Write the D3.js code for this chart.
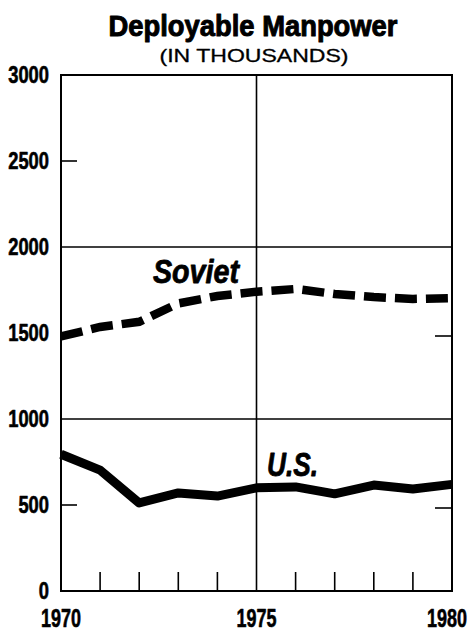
<!DOCTYPE html>
<html>
<head>
<meta charset="utf-8">
<script src="https://cdn.jsdelivr.net/npm/d3@7"></script>
<style>
  body { margin: 0; background: #fff; }
  svg text { fill: #000; font-family: 'Liberation Sans', Arial, sans-serif; }
</style>
</head>
<body>
<div id="chart"></div>
<script>
const years = [1970, 1971, 1972, 1973, 1974, 1975, 1976, 1977, 1978, 1979, 1980];
const soviet = [1480, 1535, 1565, 1672, 1715, 1740, 1756, 1727, 1709, 1698, 1703];
const us = [795, 703, 512, 570, 552, 600, 605, 565, 616, 593, 620];
const yTickLabels = [0, 500, 1000, 1500, 2000, 2500, 3000];
const yearLabels = [1970, 1975, 1980];
const gridValues = [1000, 2000];

const W = 472, H = 636;

const svg = d3.select("#chart").append("svg")
  .attr("width", W).attr("height", H);

const x = d3.scaleLinear().domain([1970, 1980]).range([61, 452]);
const y = d3.scaleLinear().domain([0, 3000]).range([591, 75]);

// the original type is a heavy condensed grotesque; squeeze Liberation Sans to fit
function squeeze(sel, len) {
  sel.attr("textLength", len).attr("lengthAdjust", "spacingAndGlyphs");
}
function heavy(sel, w) {
  sel.attr("stroke", "#000").attr("stroke-width", w).attr("stroke-linejoin", "round");
}

// title
svg.append("text")
  .attr("x", 253).attr("y", 36)
  .attr("text-anchor", "middle")
  .style("font-weight", "bold")
  .style("font-size", "30px")
  .text("Deployable Manpower")
  .call(squeeze, 289)
  .call(heavy, 1);

svg.append("text")
  .attr("x", 254).attr("y", 62)
  .attr("text-anchor", "middle")
  .style("font-size", "18px")
  .text("(IN THOUSANDS)")
  .call(squeeze, 189)
  .call(heavy, 0.3);

// frame and grid
const frame = svg.append("g").attr("stroke", "#000").attr("fill", "none");
frame.append("rect")
  .attr("x", x(1970)).attr("y", y(3000))
  .attr("width", x(1980) - x(1970)).attr("height", y(0) - y(3000))
  .attr("stroke-width", 2);

frame.selectAll(".grid")
  .data(gridValues)
  .join("line")
  .attr("x1", x(1970)).attr("x2", x(1980))
  .attr("y1", d => y(d)).attr("y2", d => y(d))
  .attr("stroke-width", 1.6);

frame.append("line")
  .attr("x1", x(1975)).attr("x2", x(1975))
  .attr("y1", y(3000)).attr("y2", y(0))
  .attr("stroke-width", 1.6);

// small inner ticks on the left and right for the half-thousands
frame.selectAll(".ltick")
  .data([500, 1500, 2500])
  .join("line")
  .attr("x1", x(1970)).attr("x2", x(1970) + 16)
  .attr("y1", d => y(d)).attr("y2", d => y(d))
  .attr("stroke-width", 1.6);

frame.selectAll(".rtick")
  .data([500, 1500])
  .join("line")
  .attr("x1", x(1980) - 17).attr("x2", x(1980))
  .attr("y1", d => y(d) + 3).attr("y2", d => y(d) + 3)
  .attr("stroke-width", 1.6);

// year ticks along the bottom
frame.selectAll(".xtick")
  .data(years.filter(d => d !== 1970 && d !== 1975 && d !== 1980))
  .join("line")
  .attr("x1", d => x(d)).attr("x2", d => x(d))
  .attr("y1", y(0)).attr("y2", y(0) - 19)
  .attr("stroke-width", 1.6);

// axis labels
svg.selectAll(".ylab")
  .data(yTickLabels)
  .join("text")
  .attr("x", 49).attr("y", d => y(d) + 8)
  .attr("text-anchor", "end")
  .style("font-weight", "bold")
  .style("font-size", "23px")
  .text(d => d)
  .call(heavy, 0.6)
  .each(function (d) { d3.select(this).call(squeeze, String(d).length * 10.2); });

// year labels: scaled with a transform so their boxes stay honest
svg.selectAll(".xlab")
  .data(yearLabels)
  .join("text")
  .attr("text-anchor", "middle")
  .style("font-weight", "bold")
  .style("font-size", "25px")
  .text(d => d)
  .call(heavy, 0.6)
  .each(function (d) {
    const w = this.getComputedTextLength();
    const cx = x(d) - (d === 1980 ? 5 : 0);
    d3.select(this).attr("transform", `translate(${cx},627) scale(${40 / w},1)`);
  });

// series
const line = d3.line().x((d, i) => x(years[i])).y(d => y(d));

svg.append("path")
  .datum(soviet)
  .attr("d", line)
  .attr("fill", "none")
  .attr("stroke", "#000")
  .attr("stroke-width", 8.5)
  .attr("stroke-dasharray", "22 9");

svg.append("path")
  .datum(us)
  .attr("d", line)
  .attr("fill", "none")
  .attr("stroke", "#000")
  .attr("stroke-width", 9)
  .attr("stroke-linejoin", "round");

// series labels
svg.append("text")
  .attr("x", 153).attr("y", 283)
  .style("font-weight", "bold")
  .style("font-style", "italic")
  .style("font-size", "33px")
  .text("Soviet")
  .call(squeeze, 86)
  .call(heavy, 0.8);

svg.append("text")
  .attr("x", 267).attr("y", 476)
  .style("font-weight", "bold")
  .style("font-style", "italic")
  .style("font-size", "33px")
  .text("U.S.")
  .call(squeeze, 51)
  .call(heavy, 0.8);
</script>
</body>
</html>
